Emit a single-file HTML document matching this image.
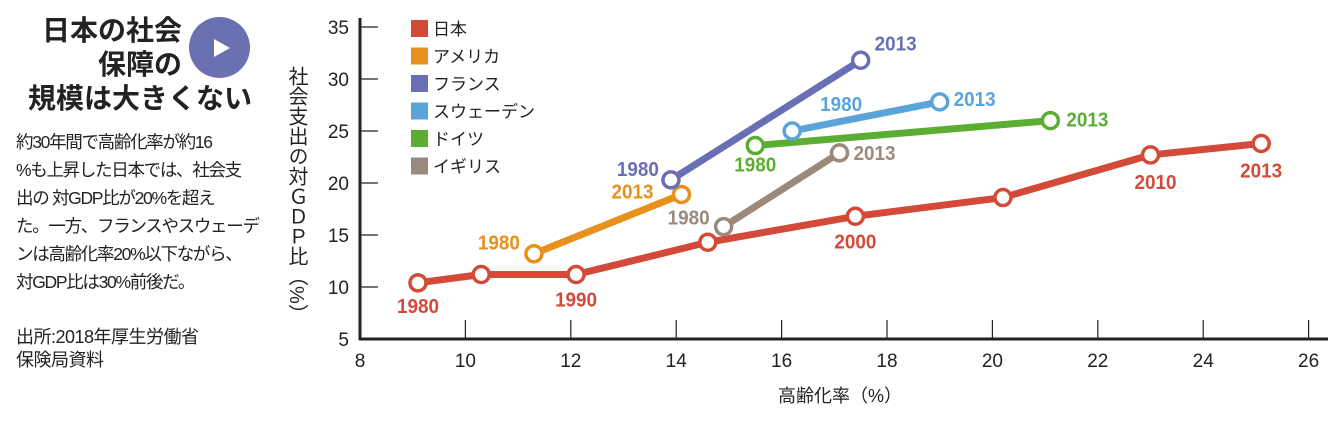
<!DOCTYPE html>
<html><head><meta charset="utf-8"><style>
body{margin:0;width:1340px;height:422px;background:#fff;overflow:hidden;font-family:"Liberation Sans","Noto Sans CJK JP",sans-serif;color:#222}
.abs{position:absolute}
</style></head><body>
<div class="abs" style="left:10px;top:14px;width:242px;font-weight:bold;font-size:28px;line-height:34px;text-align:right;white-space:nowrap">
<div style="padding-right:70px">日本の社会</div><div style="padding-right:70px">保障の</div><div>規模は大きくない</div></div>
<div class="abs" style="left:189px;top:17px;width:61px;height:61px;border-radius:50%;background:#6a70b0"></div>
<div class="abs" style="left:214px;top:39px;width:0;height:0;border-left:16px solid #fff;border-top:9px solid transparent;border-bottom:9px solid transparent"></div>
<div class="abs" style="left:16px;top:128px;font-size:17.5px;line-height:28px;letter-spacing:-1.3px;white-space:nowrap">約30年間で高齢化率が約16<br>%も上昇した日本では、社会支<br>出の 対GDP比が20%を超え<br>た。一方、フランスやスウェーデ<br>ンは高齢化率20%以下ながら、<br>対GDP比は30%前後だ。</div>
<div class="abs" style="left:16px;top:326px;font-size:18px;line-height:23px;letter-spacing:-0.5px">出所:2018年厚生労働省<br>保険局資料</div>
<svg class="abs" style="left:0;top:0" width="1340" height="422" id="chart"></svg>
<script>
const xTicks=[8,10,12,14,16,18,20,22,24,26];
const yTicks=[5,10,15,20,25,30,35];
const seriesNames=["日本","アメリカ","フランス","スウェーデン","ドイツ","イギリス"];
const seriesColors=["#d34a38","#e8901c","#6a6fb5","#5ba4da","#5cad33","#9a8a7c"];
const japanX=[9.1,10.3,12.1,14.6,17.4,20.2,23.0,25.1];
const japanY=[10.4,11.2,11.2,14.3,16.8,18.6,22.7,23.8];
const usaX=[11.3,14.1];const usaY=[13.2,18.9];
const franceX=[13.9,17.5];const franceY=[20.3,31.8];
const swedenX=[16.2,19.0];const swedenY=[25.0,27.8];
const germanyX=[15.5,21.1];const germanyY=[23.6,26.0];
const ukX=[14.9,17.1];const ukY=[15.8,22.9];
const labelYears=[["1980",null,"1990",null,"2000",null,"2010","2013"],["1980","2013"],["1980","2013"],["1980","2013"],["1980","2013"],["1980","2013"]];
const NS="http://www.w3.org/2000/svg";
const svg=document.getElementById('chart');
const sx=v=>360+(v-8)*52.7;
const sy=v=>339-(v-5)*10.4;
function mk(t,a){const e=document.createElementNS(NS,t);for(const k in a)e.setAttribute(k,a[k]);svg.appendChild(e);return e;}
let e;
e=mk('line',{x1:360,y1:18,x2:360,y2:340,stroke:'#222','stroke-width':3});


e=mk('line',{x1:359,y1:339,x2:1328,y2:339,stroke:'#222','stroke-width':3});


xTicks.forEach(v=>{
 if(v>8){e=mk('line',{x1:sx(v),y1:320,x2:sx(v),y2:339,stroke:'#222','stroke-width':1.2});
 
 }
 e=mk('text',{x:sx(v),y:367,'text-anchor':'middle','font-size':19,fill:'#222'});e.textContent=v;
 
 
});
yTicks.forEach(v=>{
 if(v>5){e=mk('line',{x1:360,y1:sy(v),x2:378,y2:sy(v),stroke:'#222','stroke-width':1.2});
 
 }
 e=mk('text',{x:349,y:sy(v)+7,'text-anchor':'end','font-size':19,fill:'#222'});e.textContent=v;
 
 
});
e=mk('text',{x:840,y:402,'text-anchor':'middle','font-size':18,fill:'#222'});e.textContent='高齢化率（%）';


e=mk('text',{x:296,y:66,'font-size':20,fill:'#222','writing-mode':'tb','glyph-orientation-vertical':0});e.textContent='社会支出の対ＧＤＰ比（%）';


seriesNames.forEach((n,i)=>{
 const y=20+i*27.5;
 e=mk('rect',{x:411,y:y,width:17,height:17,fill:seriesColors[i]});
 
 
 e=mk('text',{x:433,y:y+15,'font-size':17,fill:'#222'});e.textContent=n;
 
 
});
const allX=[japanX,usaX,franceX,swedenX,germanyX,ukX],allY=[japanY,usaY,franceY,swedenY,germanyY,ukY];
const labelOff=[[[0,30,'middle'],null,[0,32,'middle'],null,[0,32,'middle'],null,[5,34,'middle'],[0,34,'middle']],
 [[-14,-4,'end'],[-28,4,'end']],[[-12,-4,'end'],[14,-10,'start']],[[28,-20,'start'],[14,4,'start']],[[0,26,'middle'],[16,6,'start']],[[-14,-2,'end'],[14,7,'start']]];
const order=[0,1,5,4,3,2];
order.forEach(i=>{
 const xs=allX[i],ys=allY[i];
 e=mk('polyline',{points:xs.map((x,j)=>sx(x)+','+sy(ys[j])).join(' '),fill:'none',stroke:seriesColors[i],'stroke-width':7,'stroke-linejoin':'round'});
 
 
 xs.forEach((x,j)=>{
  e=mk('circle',{cx:sx(x),cy:sy(ys[j]),r:8,fill:'#fff',stroke:seriesColors[i],'stroke-width':3.5});
  
  
 });
});
order.forEach(i=>{
 const xs=allX[i],ys=allY[i];
 xs.forEach((x,j)=>{
  const lab=labelYears[i][j],o=labelOff[i][j];
  if(lab&&o){e=mk('text',{x:sx(x)+o[0],y:sy(ys[j])+o[1],'text-anchor':o[2],'font-size':20,'font-weight':'bold',fill:seriesColors[i]});
   e.textContent=lab;
   
   
   e.setAttribute('textLength',42);e.setAttribute('lengthAdjust','spacingAndGlyphs');}
 });
});
</script>
</body></html>
